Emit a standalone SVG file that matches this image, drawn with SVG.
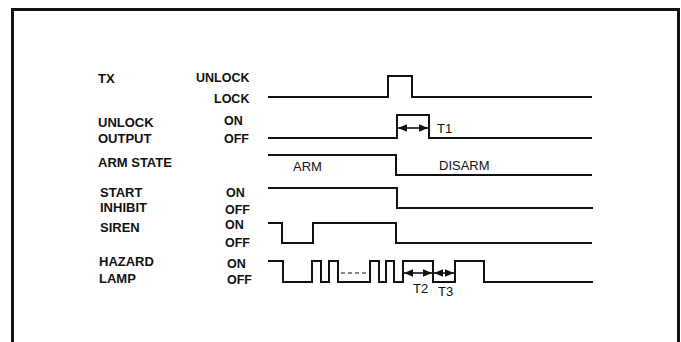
<svg xmlns="http://www.w3.org/2000/svg" width="681" height="342" viewBox="0 0 681 342">
<style>
.lbl{font-family:"Liberation Sans",Arial,sans-serif;font-size:12.5px;font-weight:bold;fill:#111}
.lbl2{font-size:13px}
.txt{font-family:"Liberation Sans",Arial,sans-serif;font-size:13px;fill:#111}
.sig{fill:none;stroke:#111;stroke-width:2;stroke-linejoin:miter}
.dim{fill:none;stroke:#111;stroke-width:1.6}
.dash{fill:none;stroke:#111;stroke-width:1;stroke-dasharray:4 3}
</style>
<defs>
<marker id="ah" markerUnits="userSpaceOnUse" markerWidth="10" markerHeight="9" refX="9" refY="4.5" orient="auto-start-reverse">
<path d="M0,0.8 L9,4.5 L0,8.2 Z" fill="#111"/>
</marker>
</defs>
<rect x="12.5" y="9.5" width="666" height="342" fill="#fff" stroke="#111" stroke-width="3"/>

<g id="tx">
<text class="lbl lbl2" x="98" y="83">TX</text>
<text class="lbl" x="196" y="82">UNLOCK</text>
<text class="lbl" x="214" y="103">LOCK</text>
<path class="sig" d="M268,97 H388 V76 H412 V97 H592"/>
</g>

<g id="unlock-output">
<text class="lbl lbl2" x="98" y="127">UNLOCK</text>
<text class="lbl lbl2" x="98" y="143">OUTPUT</text>
<text class="lbl" x="224" y="125">ON</text>
<text class="lbl" x="224" y="143">OFF</text>
<path class="sig" d="M268,138 H397 V115 H429 V138 H592"/>
<text class="txt" x="437" y="133">T1</text>
</g>

<g id="arm-state">
<text class="lbl lbl2" x="98" y="167">ARM STATE</text>
<path class="sig" d="M268,155 H396 V175 H592"/>
<text class="txt" x="293" y="171">ARM</text>
<text class="txt" x="439" y="170">DISARM</text>
</g>

<g id="start-inhibit">
<text class="lbl lbl2" x="100" y="197">START</text>
<text class="lbl lbl2" x="100" y="212">INHIBIT</text>
<text class="lbl" x="226" y="197">ON</text>
<text class="lbl" x="225" y="214">OFF</text>
<path class="sig" d="M268,188 H397 V208 H593"/>
</g>

<g id="siren">
<text class="lbl lbl2" x="100" y="232">SIREN</text>
<text class="lbl" x="225" y="229">ON</text>
<text class="lbl" x="225" y="247">OFF</text>
<path class="sig" d="M268,223 H282 V243 H313 V223 H396 V243 H592"/>
</g>

<g id="hazard-lamp">
<text class="lbl lbl2" x="99" y="266">HAZARD</text>
<text class="lbl lbl2" x="99" y="283">LAMP</text>
<text class="lbl" x="227" y="268">ON</text>
<text class="lbl" x="227" y="284">OFF</text>
<path class="sig" d="M268,261 H283 V282 H312 V261 H321 V282 H329 V261 H338 V282 H370 V261 H379 V282 H386 V261 H394 V282 H403 V261 H433 V282 H455 V261 H484 V282 H593"/>
<path class="dash" d="M341,273 H369"/>
<text class="txt" x="413" y="293">T2</text>
<text class="txt" x="438" y="296">T3</text>
</g>

<g id="connectors">
<path class="dim" d="M398,128 H428" marker-start="url(#ah)" marker-end="url(#ah)"/>
<path class="dim" d="M404,273 H432" marker-start="url(#ah)" marker-end="url(#ah)"/>
<path class="dim" d="M434,273 H454" marker-start="url(#ah)" marker-end="url(#ah)"/>
</g>
</svg>
